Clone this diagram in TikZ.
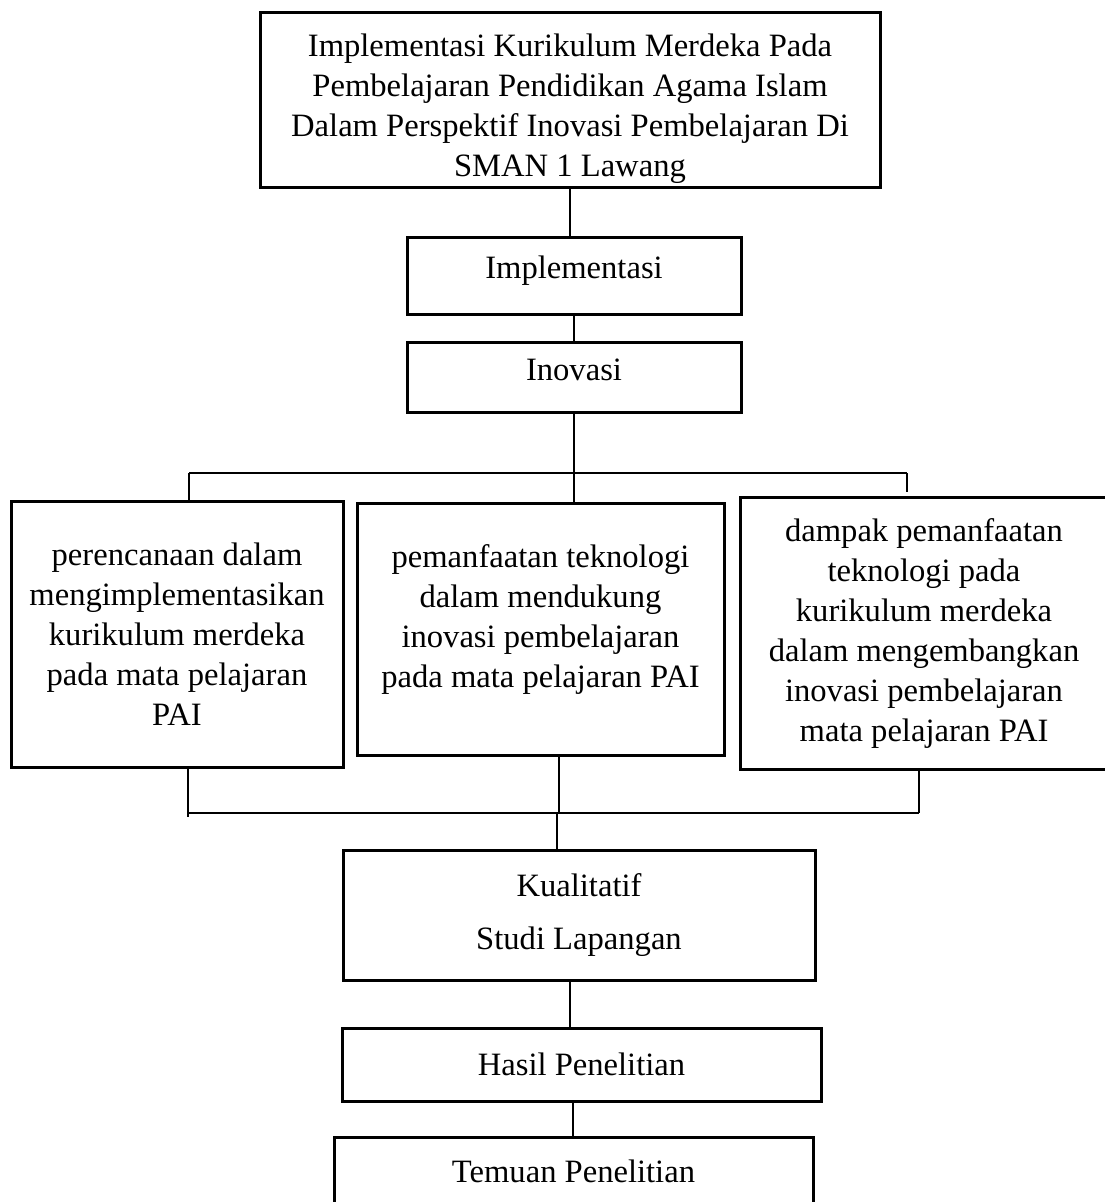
\documentclass[tikz,border=0pt]{standalone}
\usepackage{fontspec}
\setmainfont{Liberation Serif}
\newcommand\myfont{\fontsize{32.6}{40}\selectfont}
\begin{document}
\begin{tikzpicture}[x=1pt,y=-1pt,
  box/.style={draw, line width=3pt, inner sep=0pt, align=center, font=\myfont},
  conn/.style={draw, line width=1.5pt}]
\useasboundingbox[fill=white] (0,0) rectangle (1105,1202);
% boxes
\node[box, minimum width=620pt, minimum height=175pt] (top) at (570,99.5)
  {\rule{0pt}{41pt}Implementasi Kurikulum Merdeka Pada\\Pembelajaran Pendidikan Agama Islam\\Dalam Perspektif Inovasi Pembelajaran Di\\SMAN 1 Lawang};
\node[box, minimum width=334pt, minimum height=77pt] (impl) at (574,275.5) {Implementasi\rule[-17pt]{0pt}{0pt}};
\node[box, minimum width=334pt, minimum height=70pt] (inov) at (574,377) {Inovasi\rule[-15pt]{0pt}{0pt}};
\node[box, minimum width=332pt, minimum height=266pt] (left) at (177,634)
  {perencanaan dalam\\mengimplementasikan\\kurikulum merdeka\\pada mata pelajaran\\PAI};
\node[box, minimum width=367pt, minimum height=252pt] (mid) at (540.5,629)
  {pemanfaatan teknologi\\dalam mendukung\\inovasi pembelajaran\\pada mata pelajaran PAI\rule[-25pt]{0pt}{0pt}};
\node[box, minimum width=368pt, minimum height=272pt] (right) at (924,633)
  {dampak pemanfaatan\\teknologi pada\\kurikulum merdeka\\dalam mengembangkan\\inovasi pembelajaran\\mata pelajaran PAI};
\node[box, minimum width=472pt, minimum height=130pt] (kual) at (579,915)
  {Kualitatif\\[13pt]Studi Lapangan};
\node[box, minimum width=479pt, minimum height=73pt] (hasil) at (581.5,1064.5) {Hasil Penelitian};
\node[box, minimum width=479pt, minimum height=68pt] (temuan) at (573.5,1171) {Temuan Penelitian};
% junction coordinates
\coordinate (j1) at (189,473);
\coordinate (j3) at (907,473);
\coordinate (j3e) at (907,492);
\coordinate (bl) at (188,817);
\coordinate (bly) at (188,813);
\coordinate (br) at (919,813);
\coordinate (bm) at (559,813);
\coordinate (bk) at (557,813);
\coordinate (c1) at (570,0);
\coordinate (c2) at (573,0);
% connectors
\draw[conn] (top.south) -- (top.south |- impl.north);
\draw[conn] (impl.south) -- (inov.north);
\draw[conn] (inov.south) -- (inov.south |- mid.north);
\draw[conn] (j1) -- (j3);
\draw[conn] (j1) -- (j1 |- left.north);
\draw[conn] (j3) -- (j3e);
\draw[conn] (bl |- left.south) -- (bl);
\draw[conn] (bly) -- (br);
\draw[conn] (br |- right.south) -- (br);
\draw[conn] (bm |- mid.south) -- (bm);
\draw[conn] (bk) -- (bk |- kual.north);
\draw[conn] (c1 |- kual.south) -- (c1 |- hasil.north);
\draw[conn] (c2 |- hasil.south) -- (c2 |- temuan.north);
\end{tikzpicture}
\end{document}
